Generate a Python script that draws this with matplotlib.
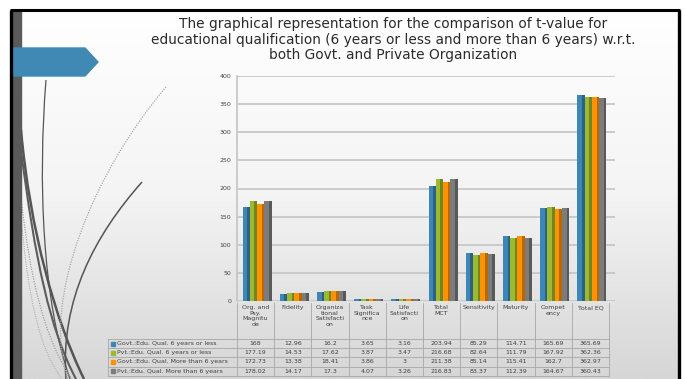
import numpy as np
import matplotlib.pyplot as plt
from matplotlib.colors import LinearSegmentedColormap, to_rgb
from matplotlib.patches import Polygon, PathPatch, Rectangle
from matplotlib.path import Path

# ---- data -------------------------------------------------------------
categories = ["Org. and\nPsy.\nMagnitu\nde", "Fidelity",
              "Organiza\ntional\nSatisfacti\non", "Task\nSignifica\nnce",
              "Life\nSatisfacti\non", "Total\nMCT", "Sensitivity",
              "Maturity", "Compet\nency", "Total EQ"]
series_names = ["Govt.:Edu. Qual. 6 years or less",
                "Pvt.:Edu. Qual. 6 years or less",
                "Govt.:Edu. Qual. More than 6 years",
                "Pvt.:Edu. Qual. More than 6 years"]
govt_le6 = [168, 12.96, 16.2, 3.65, 3.16, 203.94, 85.29, 114.71, 165.69, 365.69]
pvt_le6 = [177.19, 14.53, 17.62, 3.87, 3.47, 216.68, 82.64, 111.79, 167.92, 362.36]
govt_gt6 = [172.73, 13.38, 18.41, 3.86, 3, 211.38, 85.14, 115.41, 162.7, 362.97]
pvt_gt6 = [178.02, 14.17, 17.3, 4.07, 3.26, 216.83, 83.37, 112.39, 164.67, 360.43]
yticks = [0, 50, 100, 150, 200, 250, 300, 350, 400]

title_lines = ["The graphical representation for the comparison of t-value for",
               "educational qualification (6 years or less and more than 6 years) w.r.t.",
               "both Govt. and Private Organization"]

series = [govt_le6, pvt_le6, govt_gt6, pvt_gt6]
colors = ["#3d87b6", "#9db92f", "#fe9200", "#7c7c7c"]

W, H = 685, 379
fig = plt.figure(figsize=(W / 100, H / 100), dpi=100)
fig.patch.set_facecolor("white")

# full-slide axes in pixel coordinates (y down)
bg = fig.add_axes([0, 0, 1, 1])
bg.set_xlim(0, W)
bg.set_ylim(H, 0)
bg.axis("off")

grad = np.linspace(0, 1, 256).reshape(-1, 1)
cmap = LinearSegmentedColormap.from_list("slide", ["#ffffff", "#f4f4f4", "#d6d6d6"])
bg.imshow(grad, cmap=cmap, extent=(13, 678, H, 11), aspect="auto", zorder=0)

# slide frame and left strip
bg.plot([10, 680], [10, 10], color="black", lw=2.2, zorder=5, solid_capstyle="butt")
bg.plot([11.5, 11.5], [10, H], color="black", lw=2.4, zorder=5, solid_capstyle="butt")
bg.plot([679.5, 679.5], [10, H], color="black", lw=2.4, zorder=5, solid_capstyle="butt")
bg.add_patch(Rectangle((13, 11), 8, H - 11, color="#5a5a5a", zorder=2))
bg.add_patch(Polygon([(13, 48), (85, 48), (98, 62), (85, 76), (13, 76)],
                     closed=True, color="#3f89b4", zorder=3))


# wisp curves on the left
def wisp(pts, **kw):
    codes = [Path.MOVETO] + [Path.CURVE4] * (len(pts) - 1)
    bg.add_patch(PathPatch(Path(pts, codes), fill=False, zorder=1, **kw))


wisp([(46, 80), (38, 180), (42, 300), (70, 379)], ec="#555555", lw=0.9)
wisp([(21, 130), (30, 230), (55, 320), (84, 379)], ec="#555555", lw=1.8)
wisp([(21, 150), (35, 260), (50, 330), (76, 379)], ec="#5c5c5c", lw=1.5)
wisp([(142, 182), (95, 235), (60, 300), (66, 379)], ec="#555555", lw=1.1)
wisp([(166, 87), (95, 170), (40, 300), (68, 379)], ec="#a8a8a8", lw=0.9, ls=(0, (1, 1)))
wisp([(21, 197), (30, 280), (45, 340), (72, 379)], ec="#a0a0a0", lw=0.9, ls=(0, (1, 1)))
wisp([(21, 215), (28, 300), (40, 350), (62, 379)], ec="#b0b0b0", lw=0.8, ls=(0, (1, 1)))

for line, ty in zip(title_lines, [24, 40, 55.5]):
    bg.text(393, ty, line, ha="center", va="center", fontsize=9.9,
            color="#2b2b2b", zorder=6)

# ---- chart ------------------------------------------------------------
col_w = 37.2
ax_left, ax_right, ax_top, ax_bottom = 237, 615, 76, 301
ax = fig.add_axes([ax_left / W, 1 - ax_bottom / H,
                   (ax_right - ax_left) / W, (ax_bottom - ax_top) / H])
ax.patch.set_alpha(0)
ax.set_xlim(-0.5, -0.5 + (ax_right - ax_left) / col_w)
ax.set_ylim(0, 400)

x = np.arange(len(categories))
bw = 0.195
for i, (vals, c) in enumerate(zip(series, colors)):
    pos = x + (i - 1.5) * bw + 0.04
    dark = tuple(v * 0.72 for v in to_rgb(c))
    ax.bar(pos, vals, width=bw, color=c, zorder=3)
    ax.bar(pos + bw * 0.32, vals, width=bw * 0.36, color=dark, zorder=3)

ax.set_yticks(yticks)
ax.set_yticklabels([str(t) for t in yticks], fontsize=4.5, color="#404040")
ax.tick_params(axis="y", length=0, pad=4)
ax.set_xticks([])
ax.yaxis.grid(True, color="#c4c4c4", lw=1.2)
ax.set_axisbelow(True)
for s in ["top", "right", "bottom"]:
    ax.spines[s].set_visible(False)
ax.spines["left"].set_color("#c4c4c4")
ax.spines["left"].set_linewidth(1.2)

# ---- data table -------------------------------------------------------
line_c = "#a6a6a6"
txt_c = "#404040"
fs = 4.5
x_edges = [ax_left + col_w * k for k in range(len(categories) + 1)]
row_lines = [339, 348.3, 357.4, 366.5, 375.6]
label_left = 108

for xe in x_edges:
    bg.plot([xe, xe], [303, row_lines[-1]], color=line_c, lw=0.6, zorder=4)
bg.plot([label_left, label_left], [row_lines[0], row_lines[-1]], color=line_c, lw=0.6, zorder=4)
for yl in row_lines:
    bg.plot([label_left, x_edges[-1]], [yl, yl], color=line_c, lw=0.6, zorder=4)

for k, name in enumerate(categories):
    cx = (x_edges[k] + x_edges[k + 1]) / 2
    bg.text(cx, 305, name, ha="center", va="top", fontsize=fs, color=txt_c,
            linespacing=1.15, zorder=6)

for r, (name, vals, c) in enumerate(zip(series_names, series, colors)):
    cy = (row_lines[r] + row_lines[r + 1]) / 2
    bg.add_patch(Rectangle((111, cy - 2), 4, 4, color=c, zorder=6))
    bg.text(117, cy, name, ha="left", va="center", fontsize=fs, color=txt_c, zorder=6)
    for k, v in enumerate(vals):
        cx = (x_edges[k] + x_edges[k + 1]) / 2
        bg.text(cx, cy, "{:g}".format(v), ha="center", va="center", fontsize=fs,
                color=txt_c, zorder=6)

fig.savefig("out.png", dpi=100)
